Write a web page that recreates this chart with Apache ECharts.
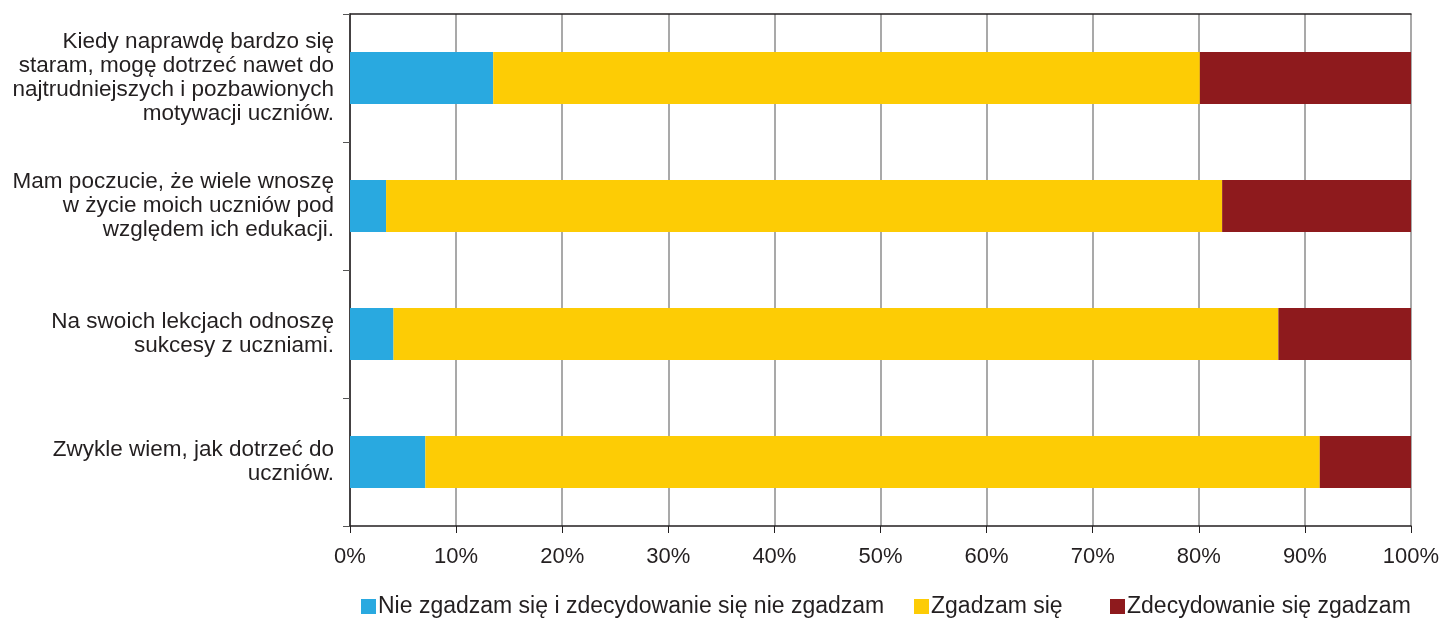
<!DOCTYPE html>
<html>
<head>
<meta charset="utf-8">
<script src="https://cdn.jsdelivr.net/npm/echarts@6/dist/echarts.min.js"></script>
<style>
  html, body { margin: 0; padding: 0; background: #fff; }
  #chart { width: 1455px; height: 619px; }
</style>
</head>
<body>
<div id="chart"></div>
<script>
// kategorie (od góry)
const categories = [
  'Kiedy naprawdę bardzo się\nstaram, mogę dotrzeć nawet do\nnajtrudniejszych i pozbawionych\nmotywacji uczniów.',
  'Mam poczucie, że wiele wnoszę\nw życie moich uczniów pod\nwzględem ich edukacji.',
  'Na swoich lekcjach odnoszę\nsukcesy z uczniami.',
  'Zwykle wiem, jak dotrzeć do\nuczniów.'
]
const seriesNames = [
  'Nie zgadzam się i zdecydowanie się nie zgadzam',
  'Zgadzam się',
  'Zdecydowanie się zgadzam'
]
const disagree = [13.5, 3.4, 4.1, 7.1]
const agree = [66.6, 78.8, 83.4, 84.3]
const stronglyAgree = [19.9, 17.8, 12.5, 8.6]
const colors = ['#29a9e0', '#fdcc05', '#8e1a1d']

const textColor = '#231f20'
const font = 'Liberation Sans, Arial, sans-serif'
const legendLeft = [361, 914, 1110]

const chart = echarts.init(document.getElementById('chart'))

function makeSeries (name, data, color) {
  return {
    name,
    type: 'bar',
    stack: 'total',
    barWidth: 52,
    itemStyle: { color },
    data
  }
}

chart.setOption({
  animation: false,
  color: colors,
  textStyle: { fontFamily: font },
  grid: { left: 350, right: 44, top: 14, bottom: 93 },
  // osobna legenda dla każdej serii, żeby ustawić pozycje jak w oryginale
  legend: seriesNames.map((name, i) => ({
    top: 595,
    left: legendLeft[i],
    padding: 0,
    icon: 'rect',
    itemWidth: 15,
    itemHeight: 15,
    textStyle: { fontSize: 23, color: textColor, fontFamily: font, padding: [0, 0, 0, -3] },
    data: [name]
  })),
  xAxis: [
    {
      type: 'value',
      min: 0,
      max: 100,
      interval: 10,
      axisLine: { show: true, lineStyle: { color: '#231f20', width: 1.5 } },
      axisTick: { show: true, length: 7, lineStyle: { color: '#231f20' } },
      axisLabel: {
        formatter: '{value}%',
        fontSize: 22,
        color: textColor,
        margin: 20
      },
      splitLine: { show: true, lineStyle: { color: '#8c8c8c', width: 1.5 } }
    },
    {
      type: 'value',
      position: 'top',
      min: 0,
      max: 100,
      axisLine: { show: true, lineStyle: { color: '#231f20', width: 1.5 } },
      axisTick: { show: false },
      axisLabel: { show: false },
      splitLine: { show: false }
    }
  ],
  yAxis: {
    type: 'category',
    inverse: true,
    data: categories,
    axisLine: { show: true, lineStyle: { color: '#231f20', width: 1.5 } },
    axisTick: { show: true, length: 7, lineStyle: { color: '#555' } },
    axisLabel: {
      fontSize: 22.5,
      lineHeight: 24,
      color: textColor,
      align: 'right',
      margin: 16
    }
  },
  series: [
    makeSeries(seriesNames[0], disagree, colors[0]),
    makeSeries(seriesNames[1], agree, colors[1]),
    makeSeries(seriesNames[2], stronglyAgree, colors[2])
  ]
})
</script>
</body>
</html>
